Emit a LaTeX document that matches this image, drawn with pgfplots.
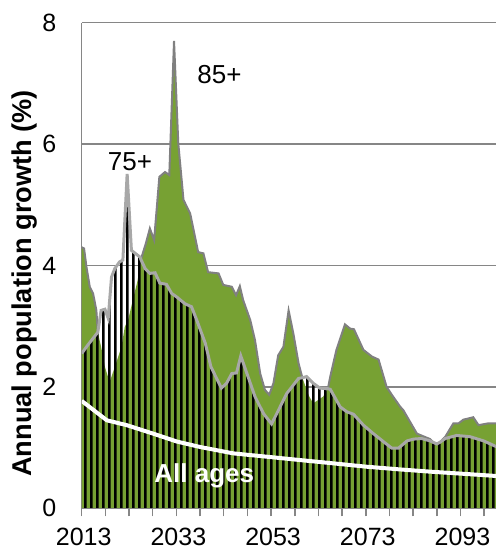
\documentclass[border=0pt]{standalone}
\usepackage{fontspec}
\setmainfont{Liberation Sans}
\usepackage{pgfplots}
\usepackage{pgfplotstable}
\pgfplotsset{compat=1.18}
\usetikzlibrary{patterns}
\definecolor{agreen}{RGB}{119,161,51}
\definecolor{gridgray}{RGB}{134,134,134}
\definecolor{lgray}{RGB}{168,168,168}
\definecolor{dgray}{RGB}{128,128,128}
\pgfdeclarepatternformonly{vstripes}{\pgfqpoint{0pt}{0pt}}{\pgfqpoint{2.8pt}{20pt}}{\pgfqpoint{2.8pt}{20pt}}{%
  \pgfpathrectangle{\pgfqpoint{0pt}{0pt}}{\pgfqpoint{1.4pt}{20pt}}%
  \pgfusepath{fill}}

\pgfplotstableread{
x y
2013.0 4.30
2013.5 4.28
2014.0 3.98
2014.7 3.65
2015.4 3.54
2016.1 3.26
2016.4 2.90
2017.1 2.66
2017.9 2.33
2018.9 2.08
2020.0 2.33
2021.4 2.66
2022.1 2.99
2022.8 3.10
2023.8 3.43
2024.8 3.75
2025.5 4.10
2026.5 4.35
2027.4 4.61
2028.3 4.42
2029.4 5.46
2030.6 5.54
2031.5 5.49
2032.5 7.70
2033.4 6.01
2034.5 5.08
2035.9 4.86
2037.6 4.22
2038.7 4.20
2039.7 3.89
2041.9 3.87
2042.9 3.68
2044.7 3.65
2045.6 3.51
2046.4 3.66
2047.1 3.43
2048.6 3.10
2049.6 2.77
2050.7 2.22
2051.7 1.95
2052.6 1.87
2053.5 2.06
2054.5 2.52
2055.6 2.66
2056.7 3.26
2057.7 2.88
2058.8 2.39
2059.6 2.15
2061.0 1.85
2061.9 1.73
2064.0 1.84
2065.0 1.97
2065.5 2.17
2066.8 2.61
2068.6 3.03
2069.7 2.96
2070.5 2.95
2072.5 2.61
2074.3 2.50
2075.7 2.45
2077.4 2.00
2078.5 1.87
2080.3 1.67
2080.9 1.62
2083.8 1.23
2086.6 1.14
2087.3 1.085
2088.0 1.04
2088.7 1.09
2089.8 1.18
2091.5 1.40
2092.6 1.40
2093.6 1.46
2095.7 1.50
2096.8 1.37
2098.9 1.40
2101.0 1.40
}\Adata

\pgfplotstableread{
x y
2013.0 2.55
2014.3 2.69
2015.4 2.80
2016.4 2.90
2017.1 3.26
2017.9 3.28
2018.6 3.13
2019.3 3.81
2020.0 3.95
2021.0 4.06
2021.7 4.09
2022.6 5.51
2023.5 4.25
2024.3 4.20
2025.3 4.14
2025.5 4.10
2026.4 3.95
2027.4 3.87
2028.5 3.88
2029.5 3.71
2030.9 3.69
2032.0 3.54
2033.1 3.48
2034.8 3.37
2036.2 3.32
2037.3 3.10
2039.1 2.72
2040.3 2.33
2042.5 1.98
2043.6 2.06
2044.7 2.22
2045.7 2.23
2046.6 2.51
2047.9 2.22
2049.6 1.84
2051.4 1.56
2053.1 1.39
2054.2 1.56
2056.3 1.89
2058.8 2.14
2059.6 2.15
2060.5 2.17
2061.9 2.06
2063.3 1.98
2065.0 1.97
2065.5 1.96
2067.6 1.67
2069.0 1.59
2070.4 1.55
2072.5 1.37
2074.6 1.23
2076.7 1.10
2078.5 0.99
2079.9 0.99
2081.7 1.11
2083.1 1.14
2084.8 1.15
2086.6 1.11
2087.3 1.085
2088.0 1.06
2088.7 1.09
2089.8 1.15
2092.2 1.20
2095.0 1.18
2097.9 1.11
2101.0 1.00
}\Bdata

\pgfplotstableread{
x y
2013.0 1.77
2018.3 1.45
2022.5 1.37
2028.1 1.23
2033.1 1.10
2038.0 1.01
2045.0 0.905
2052.1 0.85
2059.1 0.795
2066.2 0.74
2073.2 0.685
2080.3 0.64
2087.3 0.60
2094.3 0.565
2101.0 0.53
}\Cdata

\begin{document}
\begin{tikzpicture}
\begin{axis}[
  at={(0,0)}, anchor=south west,
  scale only axis, width=207.15pt, height=242.8pt,
  xmin=2013, xmax=2100.5, ymin=0, ymax=8,
  axis x line*=bottom, axis y line*=left,
  axis line style={gridgray, line width=0.75pt},
  xtick={2013,2033,2053,2073,2093},
  xticklabels={2013,2033,2053,2073,2093},
  minor xtick={2018,2023,2028,2038,2043,2048,2058,2063,2068,2078,2083,2088,2098},
  ytick={0,2,4,6,8}, yticklabels={0,2,4,6,8},
  tick align=outside, major tick length=4pt, minor tick length=4pt,
  x tick style={gridgray, line width=0.75pt},
  y tick style={draw=none},
  ymajorgrids, grid style={gridgray, line width=0.75pt},
  tick label style={font=\fontsize{12.5}{15}\selectfont},
  xticklabel style={anchor=north, inner sep=0pt, xshift=1pt, yshift=-5.6pt},
  yticklabel style={anchor=east, inner sep=0pt, xshift=-8.5pt},
  ylabel={Annual population growth (\%)},
  ylabel style={font=\bfseries\fontsize{13.6}{16}\selectfont, at={(axis description cs:-0.1369,0.463)}, anchor=center},
]
\addplot[draw=none, fill=agreen] table {\Adata} \closedcycle;
\addplot[draw=none, pattern=vstripes, pattern color=black] table {\Bdata} \closedcycle;
\addplot[dgray, line width=1pt, restrict x to domain=2013:2016.41] table {\Adata};
\addplot[dgray, line width=1pt, restrict x to domain=2025.49:2059.61] table {\Adata};
\addplot[dgray, line width=1pt, restrict x to domain=2064.99:2087.31] table {\Adata};
\addplot[dgray, line width=1pt, restrict x to domain=2088.69:2102] table {\Adata};
\addplot[lgray, line width=1.5pt] table {\Bdata};
\addplot[white, line width=2pt] table {\Cdata};
\draw[gridgray, line width=0.75pt] (rel axis cs:0,0) -- (rel axis cs:0,1);
\draw[gridgray, line width=0.75pt] (rel axis cs:0,0) -- (rel axis cs:1,0);
\node[anchor=base, font=\fontsize{13}{15}\selectfont] at (axis cs:2023.2,5.57) {75+};
\node[anchor=base, font=\fontsize{13}{15}\selectfont] at (axis cs:2042.1,7.0) {85+};
\node[anchor=base, white, font=\bfseries\fontsize{13}{15}\selectfont] at (axis cs:2038.9,0.42) {All ages};
\end{axis}
\pgfresetboundingbox
\path[use as bounding box] (-40.85pt,-19.85pt) rectangle (207.15pt,254.15pt);
\end{tikzpicture}
\end{document}
